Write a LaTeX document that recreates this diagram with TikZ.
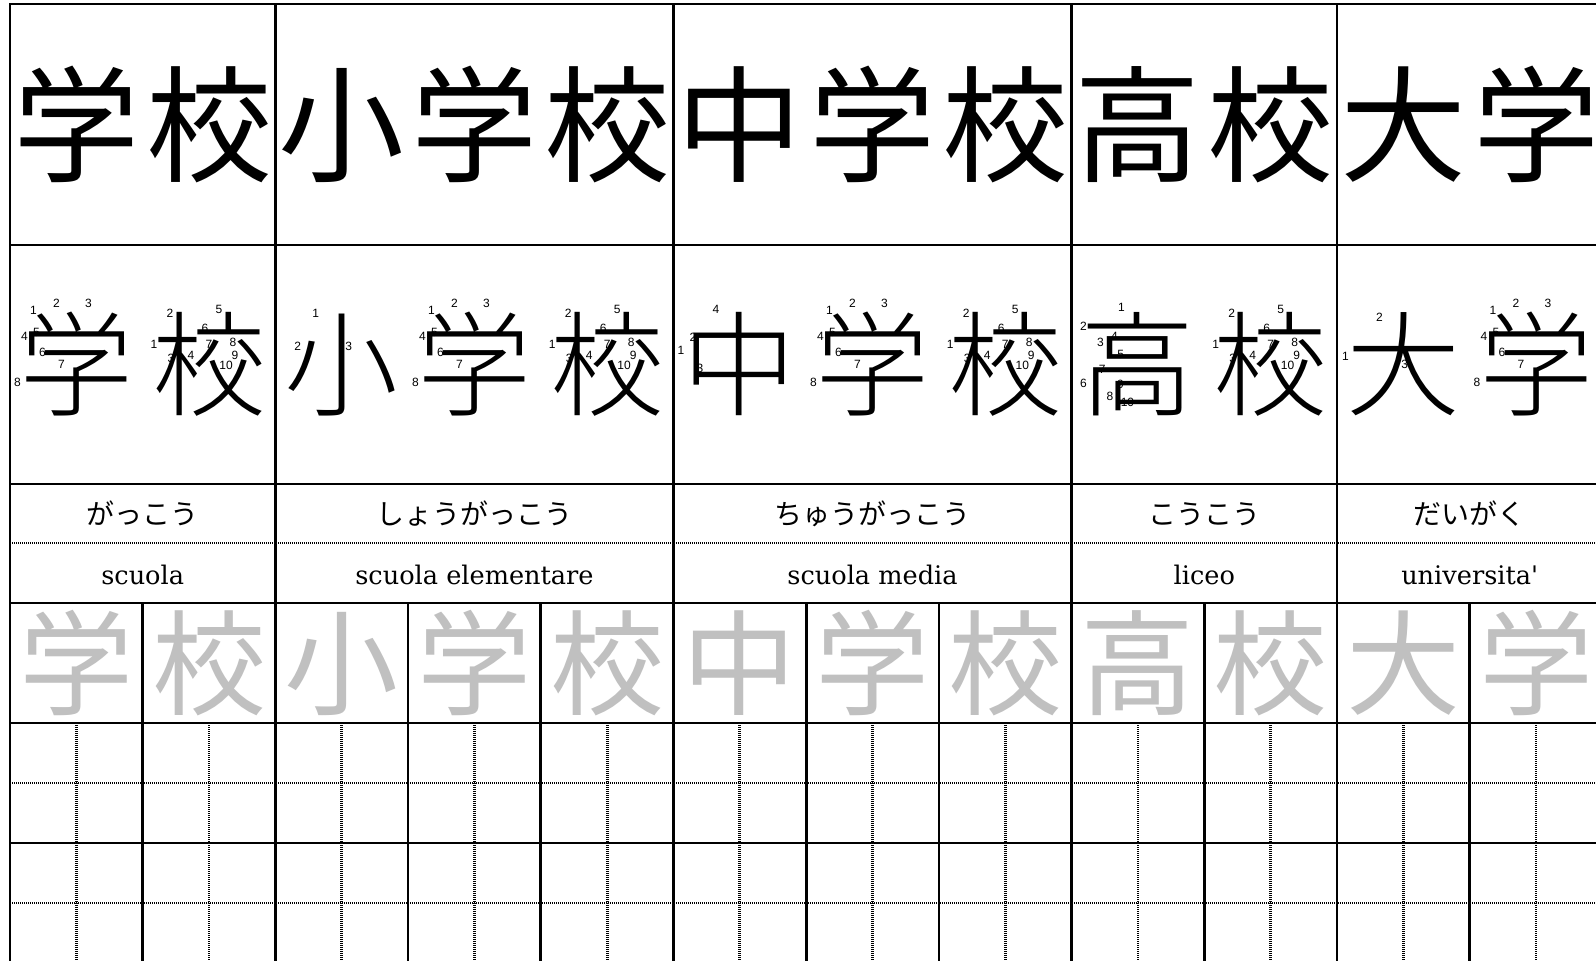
\documentclass[tikz,border=0pt]{standalone}
\usepackage{fontspec}
\setmainfont{DejaVu Serif}[Ligatures=TeXOff]
\newfontfamily\jpfont{Noto Sans CJK JP}
\IfFontExistsTF{Noto Sans CJK JP Light}
  {\newfontfamily\jplight{Noto Sans CJK JP Light}}
  {\newfontfamily\jplight{Noto Sans CJK JP}}
\newfontfamily\numfont{Liberation Sans}
\definecolor{ghost}{RGB}{192,192,192}
\tikzset{
  gridline/.style={line width=1.35pt, line cap=rect},
  finedots/.style={line width=1.1pt, dash pattern=on 0.6pt off 0.4pt},
  griddots/.style={line width=1.4pt, dash pattern=on 0.6pt off 0.4pt},
  bigkanji/.style={inner sep=0pt, font=\jpfont\fontsize{63}{63}\selectfont, text height=55.4pt, text depth=7.6pt},
  orderkanji/.style={inner sep=0pt, font=\jplight\fontsize{57}{57}\selectfont, text height=50.2pt, text depth=6.8pt},
  ghostkanji/.style={inner sep=0pt, text=ghost, font=\jpfont\fontsize{57}{57}\selectfont, text height=50.2pt, text depth=6.8pt},
  reading/.style={inner sep=0pt, font=\jpfont\fontsize{14}{14}\selectfont, text height=12.3pt, text depth=1.7pt},
  meaning/.style={inner sep=0pt, anchor=base, font=\fontsize{12.8}{12.8}\selectfont},
  sn/.style={inner sep=0pt, font=\numfont\fontsize{6}{6}\selectfont},
  gaku/.pic={
    \node[sn] (n1) at (-43,-54) {1};
    \node[sn] (n2) at (-20,-61) {2};
    \node[sn] (n3) at (12,-61) {3};
    \node[sn] (n4) at (-52,-28) {4};
    \node[sn] (n5) at (-40,-32) {5};
    \node[sn] (n6) at (-34,-12) {6};
    \node[sn] (n7) at (-15,0) {7};
    \node[sn] (n8) at (-59,18) {8};
  },
  kou/.pic={
    \node[sn] (n1) at (-55,-20) {1};
    \node[sn] (n2) at (-39,-51) {2};
    \node[sn] (n3) at (-38,-6) {3};
    \node[sn] (n4) at (-18,-9.5) {4};
    \node[sn] (n5) at (10,-55.5) {5};
    \node[sn] (n6) at (-4,-36) {6};
    \node[sn] (n7) at (0,-20.5) {7};
    \node[sn] (n8) at (24,-22) {8};
    \node[sn] (n9) at (26,-9) {9};
    \node[sn] (n10) at (17,1) {10};
  },
  shou/.pic={
    \node[sn] (n1) at (-26,-51) {1};
    \node[sn] (n2) at (-44,-18) {2};
    \node[sn] (n3) at (7,-18) {3};
  },
  chuu/.pic={
    \node[sn] (n1) at (-59,-14.5) {1};
    \node[sn] (n2) at (-47,-27) {2};
    \node[sn] (n3) at (-40,4) {3};
    \node[sn] (n4) at (-24,-55) {4};
  },
  takai/.pic={
    \node[sn] (n1) at (-16.5,-57.3) {1};
    \node[sn] (n2) at (-54.5,-38.2) {2};
    \node[sn] (n3) at (-37.5,-21.8) {3};
    \node[sn] (n4) at (-23.5,-28.1) {4};
    \node[sn] (n5) at (-17.2,-10.3) {5};
    \node[sn] (n6) at (-54.5,18.6) {6};
    \node[sn] (n7) at (-35.7,4.7) {7};
    \node[sn] (n8) at (-28,31.5) {8};
    \node[sn] (n9) at (-17.5,20) {9};
    \node[sn] (n10) at (-10.5,37.5) {10};
  },
  dai/.pic={
    \node[sn] (n1) at (-58,-8) {1};
    \node[sn] (n2) at (-24,-47) {2};
    \node[sn] (n3) at (1.4,0) {3};
  },
}
\begin{document}
\begin{tikzpicture}[x=0.5pt,y=-0.5pt]
\useasboundingbox (0,0) rectangle (1596,960);
\fill[white] (0,0) rectangle (1596,960);
\clip (0,0) rectangle (1596,960);
% kanji
\foreach \k/\p [count=\i from 0] in {学/gaku,校/kou,小/shou,学/gaku,校/kou,中/chuu,学/gaku,校/kou,高/takai,校/kou,大/dai,学/gaku}{
  \pgfmathsetmacro\cx{10+132.7*\i+66.35}
  \node[bigkanji] (big\i) at (\cx,124.5) {\k};
  \node[orderkanji] (ord\i) at (\cx,364.5) {\k};
  \pic (so\i) at (\cx,364.5) {\p};
  \node[ghostkanji] (gh\i) at (\cx,663) {\k};
}
% readings and meanings
\foreach \gx/\r/\m [count=\j] in {142.7/がっこう/scuola, 474.5/しょうがっこう/scuola elementare, 872.5/ちゅうがっこう/scuola media, 1204.3/こうこう/liceo, 1469.7/だいがく/universita'}{
  \node[reading] (rd\j) at (\gx,513.5) {\r};
  \node[meaning] (mn\j) at (\gx,584) {\m};
}
% dotted lines
\foreach \y in {543,783,903}{
  \draw[finedots] (10,\y) -- (1610,\y);
}
\foreach \i in {0,...,11}{
  \pgfmathsetmacro\cx{10+132.7*\i+66.35}
  \draw[griddots] (\cx,723) -- (\cx,965);
}
% solid lines
\foreach \y in {4,245,484,603,723,843,963}{
  \draw[gridline] (10,\y) -- (1610,\y);
}
\foreach \k in {0,2,5,8,10,12}{
  \pgfmathsetmacro\gx{10+132.7*\k}
  \draw[gridline] (\gx,4) -- (\gx,965);
}
\foreach \k in {1,3,4,6,7,9,11}{
  \pgfmathsetmacro\gx{10+132.7*\k}
  \draw[gridline] (\gx,603) -- (\gx,965);
}
\end{tikzpicture}
\end{document}
